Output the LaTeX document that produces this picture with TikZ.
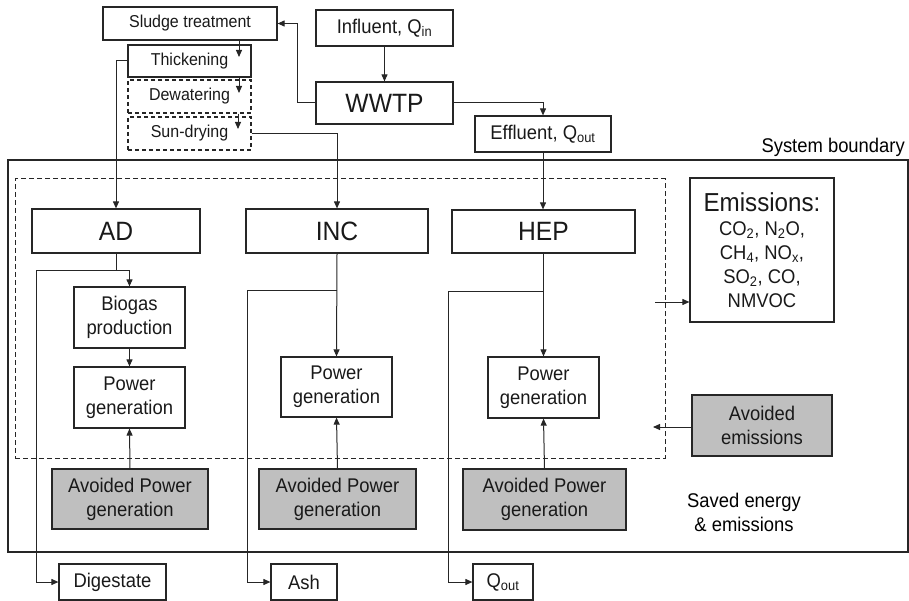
\documentclass[tikz,border=0pt]{standalone}
\usepackage{fontspec}
\setmainfont{Liberation Sans}[FakeStretch=0.93]
\usetikzlibrary{arrows.meta}
\begin{document}
\begin{tikzpicture}[x=1pt,y=-1pt,
  font=\fontsize{19.8}{24}\selectfont,
  box/.style={draw=black!85, line width=1.2pt, inner sep=0pt, align=center, text=black!90},
  dbox/.style={box, dash pattern=on 4pt off 3pt},
  gbox/.style={box, fill=black!25},
  conn/.style={line width=1pt, draw=black!85},
  arr/.style={conn, -{Triangle[length=7pt,width=6pt]}},
  small/.style={font=\fontsize{17.2}{20}\selectfont},
  big/.style={font=\fontsize{26.5}{30}\selectfont}]
\useasboundingbox (0,0) rectangle (909,601);

% boundaries
\node[draw=black!85, line width=1.2pt, minimum width=900pt, minimum height=392pt, inner sep=0pt] (sysb) at (458,356) {};
\node[anchor=south east, inner sep=0pt] (sysbl) at (905,157) {System boundary};
\node[draw=black!85, line width=1pt, dash pattern=on 5pt off 3pt, minimum width=650pt, minimum height=279pt, inner sep=0pt] (inner) at (340,318.5) {};

% top part
\node[box, small, minimum width=174pt, minimum height=33pt] (sludge) at (190,23.5) {Sludge treatment};
\node[box, small, minimum width=123pt, minimum height=32pt] (thick) at (189.5,61) {Thickening};
\node[dbox, small, minimum width=123pt, minimum height=33pt] (dewat) at (189.5,96.5) {Dewatering};
\node[dbox, small, minimum width=123pt, minimum height=33pt] (sundry) at (189.5,133.5) {Sun-drying};
\node[box, minimum width=137pt, minimum height=36pt] (influent) at (384.5,28) {Influent, Q\textsubscript{in}};
\node[box, big, minimum width=137pt, minimum height=42pt] (wwtp) at (384.5,103) {WWTP};
\node[box, minimum width=136pt, minimum height=36pt] (effluent) at (543,134) {Effluent, Q\textsubscript{out}};

% process boxes
\node[box, big, minimum width=168pt, minimum height=44pt] (AD) at (116,231) {AD};
\node[box, big, minimum width=182pt, minimum height=44pt] (INC) at (337,231) {INC};
\node[box, big, minimum width=183pt, minimum height=43pt] (HEP) at (543.5,231.5) {HEP};
\node[box, minimum width=144pt, minimum height=144pt] (emis) at (762,250)
  {{\fontsize{26}{30}\selectfont Emissions:}\\[0pt]
   CO\textsubscript{2}, N\textsubscript{2}O,\\
   CH\textsubscript{4}, NO\textsubscript{x},\\
   SO\textsubscript{2}, CO,\\
   NMVOC};

\node[box, minimum width=111pt, minimum height=61pt] (biogas) at (129.5,317.5) {Biogas\\production};
\node[box, minimum width=111pt, minimum height=61pt] (pgAD) at (129.5,397.5) {Power\\generation};
\node[box, minimum width=111pt, minimum height=60pt] (pgINC) at (336.5,387) {Power\\generation};
\node[box, minimum width=111pt, minimum height=61pt] (pgHEP) at (543.5,387.5) {Power\\generation};

\node[gbox, minimum width=156pt, minimum height=60pt] (avAD) at (130,499) {Avoided Power\\generation};
\node[gbox, minimum width=157pt, minimum height=60pt] (avINC) at (337.5,499) {Avoided Power\\generation};
\node[gbox, minimum width=163pt, minimum height=61pt] (avHEP) at (544.5,499.5) {Avoided Power\\generation};
\node[gbox, minimum width=140pt, minimum height=61pt] (avEmis) at (762,425.5) {Avoided\\emissions};

\node[align=center, inner sep=0pt] (saved) at (744,512) {Saved energy\\\& emissions};

\node[box, minimum width=107pt, minimum height=36pt] (digestate) at (112.5,582) {Digestate};
\node[box, minimum width=66pt, minimum height=36pt] (ash) at (304,582) {Ash};
\node[box, minimum width=60pt, minimum height=36pt] (qout) at (503,582) {Q\textsubscript{out}};

% connectors top
\draw[arr] (influent.south) -- (wwtp.north);
\draw[arr] (wwtp.west) -- ++(-18,0) |- (sludge.east);
\draw[arr] (wwtp.east) -| (effluent.north);
\draw[arr] (effluent.south) -- (effluent.south |- HEP.north);

\coordinate (s1) at (239,57);
\coordinate (s2) at (239,93);
\coordinate (s3) at (238,129);
\draw[arr] (s1 |- sludge.south) -- (s1);
\draw[arr] (s2 |- thick.south) -- (s2);
\draw[arr] (s3 |- dewat.south) -- (s3);

\draw[arr] (thick.west) -| (AD.north);
\draw[arr] (sundry.east) -| (INC.north);

% AD column
\path (AD.south) ++(0,17) coordinate (adsplit);
\draw[arr] (AD.south) -- (adsplit) -| (biogas.north);
\draw[arr] (adsplit) -- ++(-80,0) |- (digestate.west);
\draw[arr] (biogas.south) -- (pgAD.north);
\draw[arr] (avAD.north) -- (pgAD.south);

% INC column
\path (INC.south) ++(0,37) coordinate (incsplit);
\draw[arr] (INC.south) -- (pgINC.north);
\draw[arr] (incsplit) -- ++(-90,0) |- (ash.west);
\draw[arr] (avINC.north) -- (pgINC.south);

% HEP column
\path (HEP.south) ++(0,38) coordinate (hepsplit);
\draw[arr] (HEP.south) -- (pgHEP.north);
\draw[arr] (hepsplit) -- ++(-95,0) |- (qout.west);
\draw[arr] (avHEP.north) -- (pgHEP.south);

% emissions
\coordinate (emin) at (655,302);
\draw[arr] (emin) -- (emin -| emis.west);
\coordinate (avin) at (653,427);
\draw[arr] (avEmis.west |- avin) -- (avin);
\end{tikzpicture}
\end{document}
